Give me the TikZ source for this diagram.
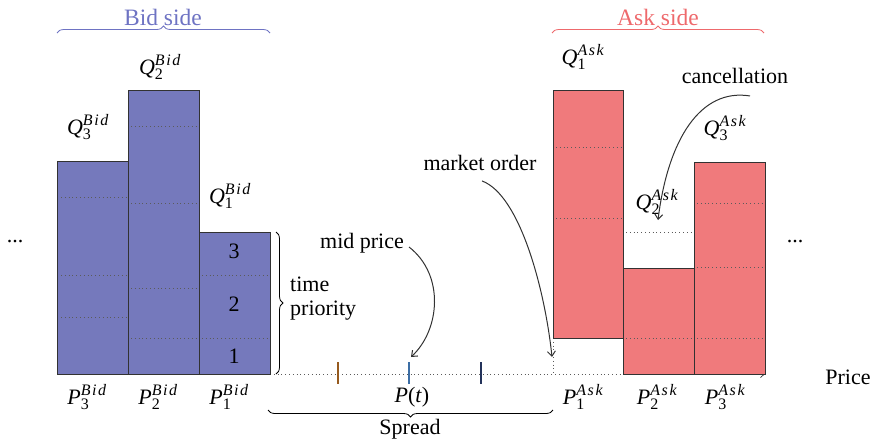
\documentclass[tikz,border=0pt]{standalone}
\usepackage{amsmath}
\usepackage{fontspec}
\setmainfont{Liberation Serif}
\usetikzlibrary{decorations.pathreplacing,arrows.meta}
\definecolor{bidc}{RGB}{117,121,188}
\definecolor{askc}{RGB}{240,122,124}
\definecolor{bidt}{RGB}{110,115,195}
\definecolor{askt}{RGB}{238,105,108}
\definecolor{edgec}{RGB}{50,50,50}
\definecolor{tickA}{RGB}{150,90,30}
\definecolor{tickB}{RGB}{60,110,165}
\definecolor{tickC}{RGB}{35,50,90}
\newcommand{\supsz}{\fontsize{16}{16}\selectfont}
\newcommand{\lbl}[3]{$\textit{#1}_{\hbox{\supsz #2}}^{\hbox{\supsz\itshape\addfontfeature{LetterSpace=10}#3}}$}
\begin{document}
\begin{tikzpicture}[x=1pt,y=-1pt,
  every node/.style={font=\fontsize{22}{24}\selectfont, inner sep=0pt},
  bidbar/.style={fill=bidc, draw=edgec, line width=0.9pt},
  askbar/.style={fill=askc, draw=edgec, line width=0.9pt},
  dots/.style={draw=edgec!80, line width=0.8pt, dash pattern=on 0.8pt off 3pt},
  axisline/.style={draw=edgec!80, line width=0.8pt, dash pattern=on 0.8pt off 3pt},
  tip/.style={-{Straight Barb[length=5pt,width=8pt]}, line width=1pt, draw=edgec},
  brc/.style={decorate, decoration={brace, amplitude=7pt}, line width=0.8pt}]
\useasboundingbox (0,0) rectangle (876,440);

% axis
\draw[axisline] (270,374) -- (762,374);
\draw[-{Straight Barb[length=4pt,width=7pt]}, draw=edgec, line width=0.7pt] (756,374) -- (765,374);
\draw[axisline] (553,338) -- (553,374);
\draw[dots] (626,232) -- (692,232);

% bid bars
\draw[bidbar] (57,161) rectangle (128,374);
\draw[bidbar] (128,90) rectangle (199,374);
\draw[bidbar] (199,232) rectangle (270,374);
\draw[dots] (61,197) -- (126,197);
\draw[dots] (61,275) -- (126,275);
\draw[dots] (61,317) -- (126,317);
\draw[dots] (131,126) -- (197,126);
\draw[dots] (131,203) -- (197,203);
\draw[dots] (131,288) -- (197,288);
\draw[dots] (131,338) -- (197,338);
\draw[dots] (202,275) -- (268,275);
\draw[dots] (202,338) -- (268,338);
\node (n3) at (234,251) {3};
\node (n2) at (234,304) {2};
\node (n1) at (234,356) {1};

% ask bars
\draw[askbar] (553,90) rectangle (623,338);
\draw[askbar] (623,268) rectangle (694,374);
\draw[askbar] (694,162) rectangle (765,374);
\draw[dots] (556,147) -- (621,147);
\draw[dots] (556,218) -- (621,218);
\draw[dots] (626,338) -- (692,338);
\draw[dots] (697,203) -- (763,203);
\draw[dots] (697,267) -- (763,267);
\draw[dots] (697,338) -- (763,338);

% ticks
\draw[tickA, line width=1.2pt] (338,362) -- (338,384);
\draw[tickB, line width=1.2pt] (409,362) -- (409,384);
\draw[tickC, line width=1.2pt] (481,362) -- (481,384);

% braces
\draw[brc, draw=bidt] (57,33) -- (270,33);
\draw[brc, draw=askt] (552,33) -- (764,33);
\draw[brc] (553,410) -- (268,410);
\draw[brc] (276,232) -- (276,374);

% side labels
\node[text=bidt, font=\fontsize{23.5}{26}\selectfont] (bidside) at (163,17) {Bid side};
\node[text=askt, font=\fontsize{23.5}{26}\selectfont] (askside) at (658,17) {Ask side};

% Q labels
\node (q3b) at (88,127) {\lbl{Q}{3}{Bid}};
\node (q2b) at (160,67) {\lbl{Q}{2}{Bid}};
\node (q1b) at (230,196) {\lbl{Q}{1}{Bid}};
\node (q1a) at (583,57) {\lbl{Q}{1}{Ask}};
\node (q2a) at (657,202) {\lbl{Q}{2}{Ask}};
\node (q3a) at (725,128) {\lbl{Q}{3}{Ask}};

% P labels
\node (p3b) at (87,397) {\lbl{P}{3}{Bid}};
\node (p2b) at (158,397) {\lbl{P}{2}{Bid}};
\node (p1b) at (229,397) {\lbl{P}{1}{Bid}};
\node (p1a) at (583,397) {\lbl{P}{1}{Ask}};
\node (p2a) at (657,397) {\lbl{P}{2}{Ask}};
\node (p3a) at (725,397) {\lbl{P}{3}{Ask}};
\node (pt) at (412,397) {\textit{P}(\textit{t})};

% other texts
\node (spread) at (410,429) {Spread};
\node (price) at (848,377) {Price};
\node (ldots) at (15,242) {...};
\node (rdots) at (795,242) {...};
\node[align=left, anchor=west] (tp) at (290,299) {time\\priority};
\node (mid) at (362,243) {mid price};
\node (mkt) at (480,163) {market order};
\node (canc) at (735,76) {cancellation};

% arrows
\coordinate (midend) at (411,357);
\coordinate (mktend) at (552,357);
\coordinate (cancend) at (658,220);
\draw[tip] ([xshift=5pt,yshift=-4pt]mid.east) .. controls (445,275) and (440,330) .. (midend);
\draw[tip] ([xshift=2pt,yshift=-10pt]mkt.south) .. controls (520,195) and (545,290) .. (mktend);
\draw[tip] ([xshift=15pt,yshift=-12pt]canc.south) .. controls (700,88) and (668,140) .. (cancend);
\end{tikzpicture}
\end{document}
